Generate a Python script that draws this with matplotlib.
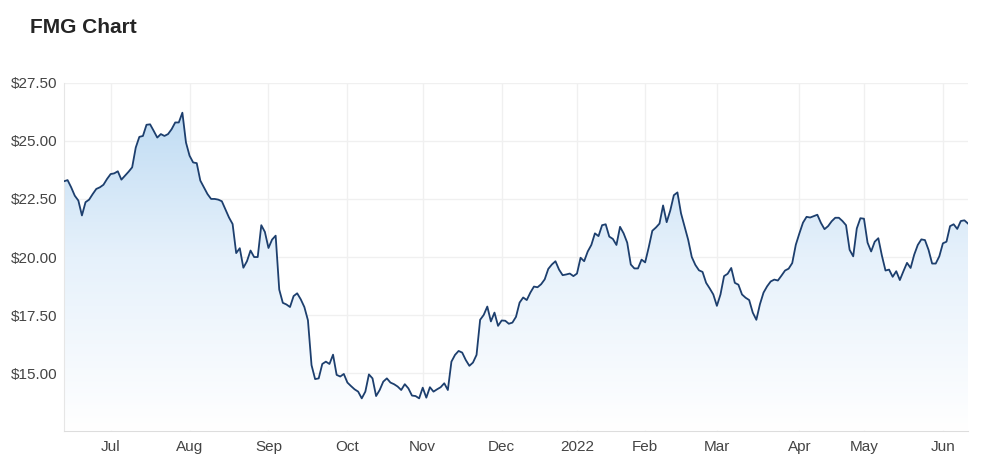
import numpy as np
import pandas as pd
import matplotlib
matplotlib.use("Agg")
import matplotlib.pyplot as plt
from matplotlib.colors import LinearSegmentedColormap

# ASX trading days, 11 Jun 2021 - 10 Jun 2022
holidays = ['2021-06-14', '2021-12-27', '2021-12-28', '2022-01-03',
            '2022-01-26', '2022-04-15', '2022-04-18', '2022-04-25']
dates = pd.bdate_range('2021-06-11', '2022-06-10', freq='C', holidays=holidays)

# closing prices
close = [
    23.26, 23.31, 23.00, 22.64, 22.43, 21.79, 22.36, 22.47, 22.71, 22.93,
    23.00, 23.11, 23.36, 23.57, 23.60, 23.69, 23.33, 23.50, 23.67, 23.86,
    24.71, 25.17, 25.21, 25.69, 25.71, 25.43, 25.14, 25.29, 25.21, 25.29,
    25.50, 25.79, 25.79, 26.21, 24.93, 24.36, 24.07, 24.04, 23.29, 23.00,
    22.71, 22.50, 22.50, 22.47, 22.40, 22.05, 21.70, 21.42, 20.17, 20.38,
    19.54, 19.82, 20.28, 20.00, 20.00, 21.37, 21.08, 20.39, 20.75, 20.92,
    18.60, 18.03, 17.96, 17.85, 18.32, 18.44, 18.18, 17.85, 17.28, 15.35,
    14.75, 14.78, 15.40, 15.50, 15.40, 15.80, 14.93, 14.86, 14.97, 14.60,
    14.45, 14.31, 14.21, 13.92, 14.21, 14.95, 14.78, 14.02, 14.28, 14.64,
    14.78, 14.60, 14.53, 14.43, 14.28, 14.53, 14.35, 14.04, 14.02, 13.92,
    14.38, 13.95, 14.40, 14.21, 14.31, 14.40, 14.57, 14.28, 15.50, 15.79,
    15.96, 15.89, 15.57, 15.32, 15.46, 15.79, 17.30, 17.51, 17.87, 17.23,
    17.61, 17.04, 17.27, 17.26, 17.13, 17.18, 17.43, 18.04, 18.26, 18.15,
    18.47, 18.73, 18.70, 18.83, 19.04, 19.49, 19.68, 19.82, 19.46, 19.22,
    19.25, 19.29, 19.18, 19.29, 19.97, 19.82, 20.24, 20.52, 21.02, 20.90,
    21.37, 21.41, 20.88, 20.78, 20.52, 21.30, 21.02, 20.62, 19.68, 19.51,
    19.51, 19.89, 19.77, 20.42, 21.13, 21.27, 21.44, 22.22, 21.50, 22.00,
    22.66, 22.78, 21.88, 21.31, 20.74, 20.00, 19.66, 19.43, 19.36, 18.89,
    18.65, 18.39, 17.90, 18.39, 19.18, 19.28, 19.53, 18.89, 18.81, 18.39,
    18.25, 18.15, 17.61, 17.30, 17.97, 18.47, 18.74, 18.95, 19.03, 18.99,
    19.20, 19.42, 19.50, 19.74, 20.53, 21.02, 21.48, 21.73, 21.70, 21.76,
    21.82, 21.47, 21.20, 21.33, 21.54, 21.69, 21.69, 21.55, 21.37, 20.31,
    20.03, 21.23, 21.67, 21.65, 20.62, 20.24, 20.66, 20.81, 20.06, 19.42,
    19.46, 19.15, 19.39, 19.01, 19.39, 19.75, 19.53, 20.10, 20.52, 20.76,
    20.73, 20.31, 19.72, 19.72, 20.03, 20.59, 20.66, 21.33, 21.41, 21.21,
    21.55, 21.58, 21.44,
]

y_ticks = [15.0, 17.5, 20.0, 22.5, 25.0, 27.5]
month_labels = ['Jul', 'Aug', 'Sep', 'Oct', 'Nov', 'Dec', '2022',
                'Feb', 'Mar', 'Apr', 'May', 'Jun']

n = min(len(dates), len(close))
x = np.arange(n)
y = np.array(close[:n])

# ordinal axis: tick at first trading day of each month
months = dates[:n].to_period('M')
first_idx = [i for i in range(1, n) if months[i] != months[i - 1]]

plt.rcParams['font.family'] = ['Liberation Sans', 'DejaVu Sans']

fig = plt.figure(figsize=(10, 4.74), dpi=100)
ax = fig.add_axes([0.064, 0.0914, 0.904, 0.7341])

ymin, ymax = 12.53, 27.5
ax.set_xlim(0, n - 1)
ax.set_ylim(ymin, ymax)

# gradient area fill
poly = ax.fill_between(x, y, ymin, color='none', lw=0)
cmap = LinearSegmentedColormap.from_list('fmg', ['#ffffff', '#e6f1fb', '#b9d8f2'])
grad = np.linspace(0, 1, 256).reshape(-1, 1)
img = ax.imshow(grad, aspect='auto', cmap=cmap, origin='lower',
                extent=[0, n - 1, ymin, ymax], zorder=1)
img.set_clip_path(poly.get_paths()[0], transform=ax.transData)

ax.plot(x, y, color='#1d3f6e', lw=1.3, zorder=3)

ax.set_yticks(y_ticks)
ax.set_yticklabels(['$%.2f' % v for v in y_ticks])
ax.set_xticks(first_idx[:len(month_labels)])
ax.set_xticklabels(month_labels[:len(first_idx)])

ax.grid(True, color='#f0f0f0', lw=1, zorder=0)
ax.set_axisbelow(True)
ax.tick_params(length=0, labelsize=11, colors='#444444')
ax.tick_params(axis='y', pad=5)
ax.tick_params(axis='x', pad=7)
for side in ['top', 'right']:
    ax.spines[side].set_visible(False)
ax.spines['left'].set_color('#e6e6e6')
ax.spines['bottom'].set_color('#dddddd')

fig.text(0.03, 0.93, 'FMG Chart', fontsize=15, fontweight='bold',
         color='#252525', va='baseline')

fig.savefig('out.png', dpi=100)
